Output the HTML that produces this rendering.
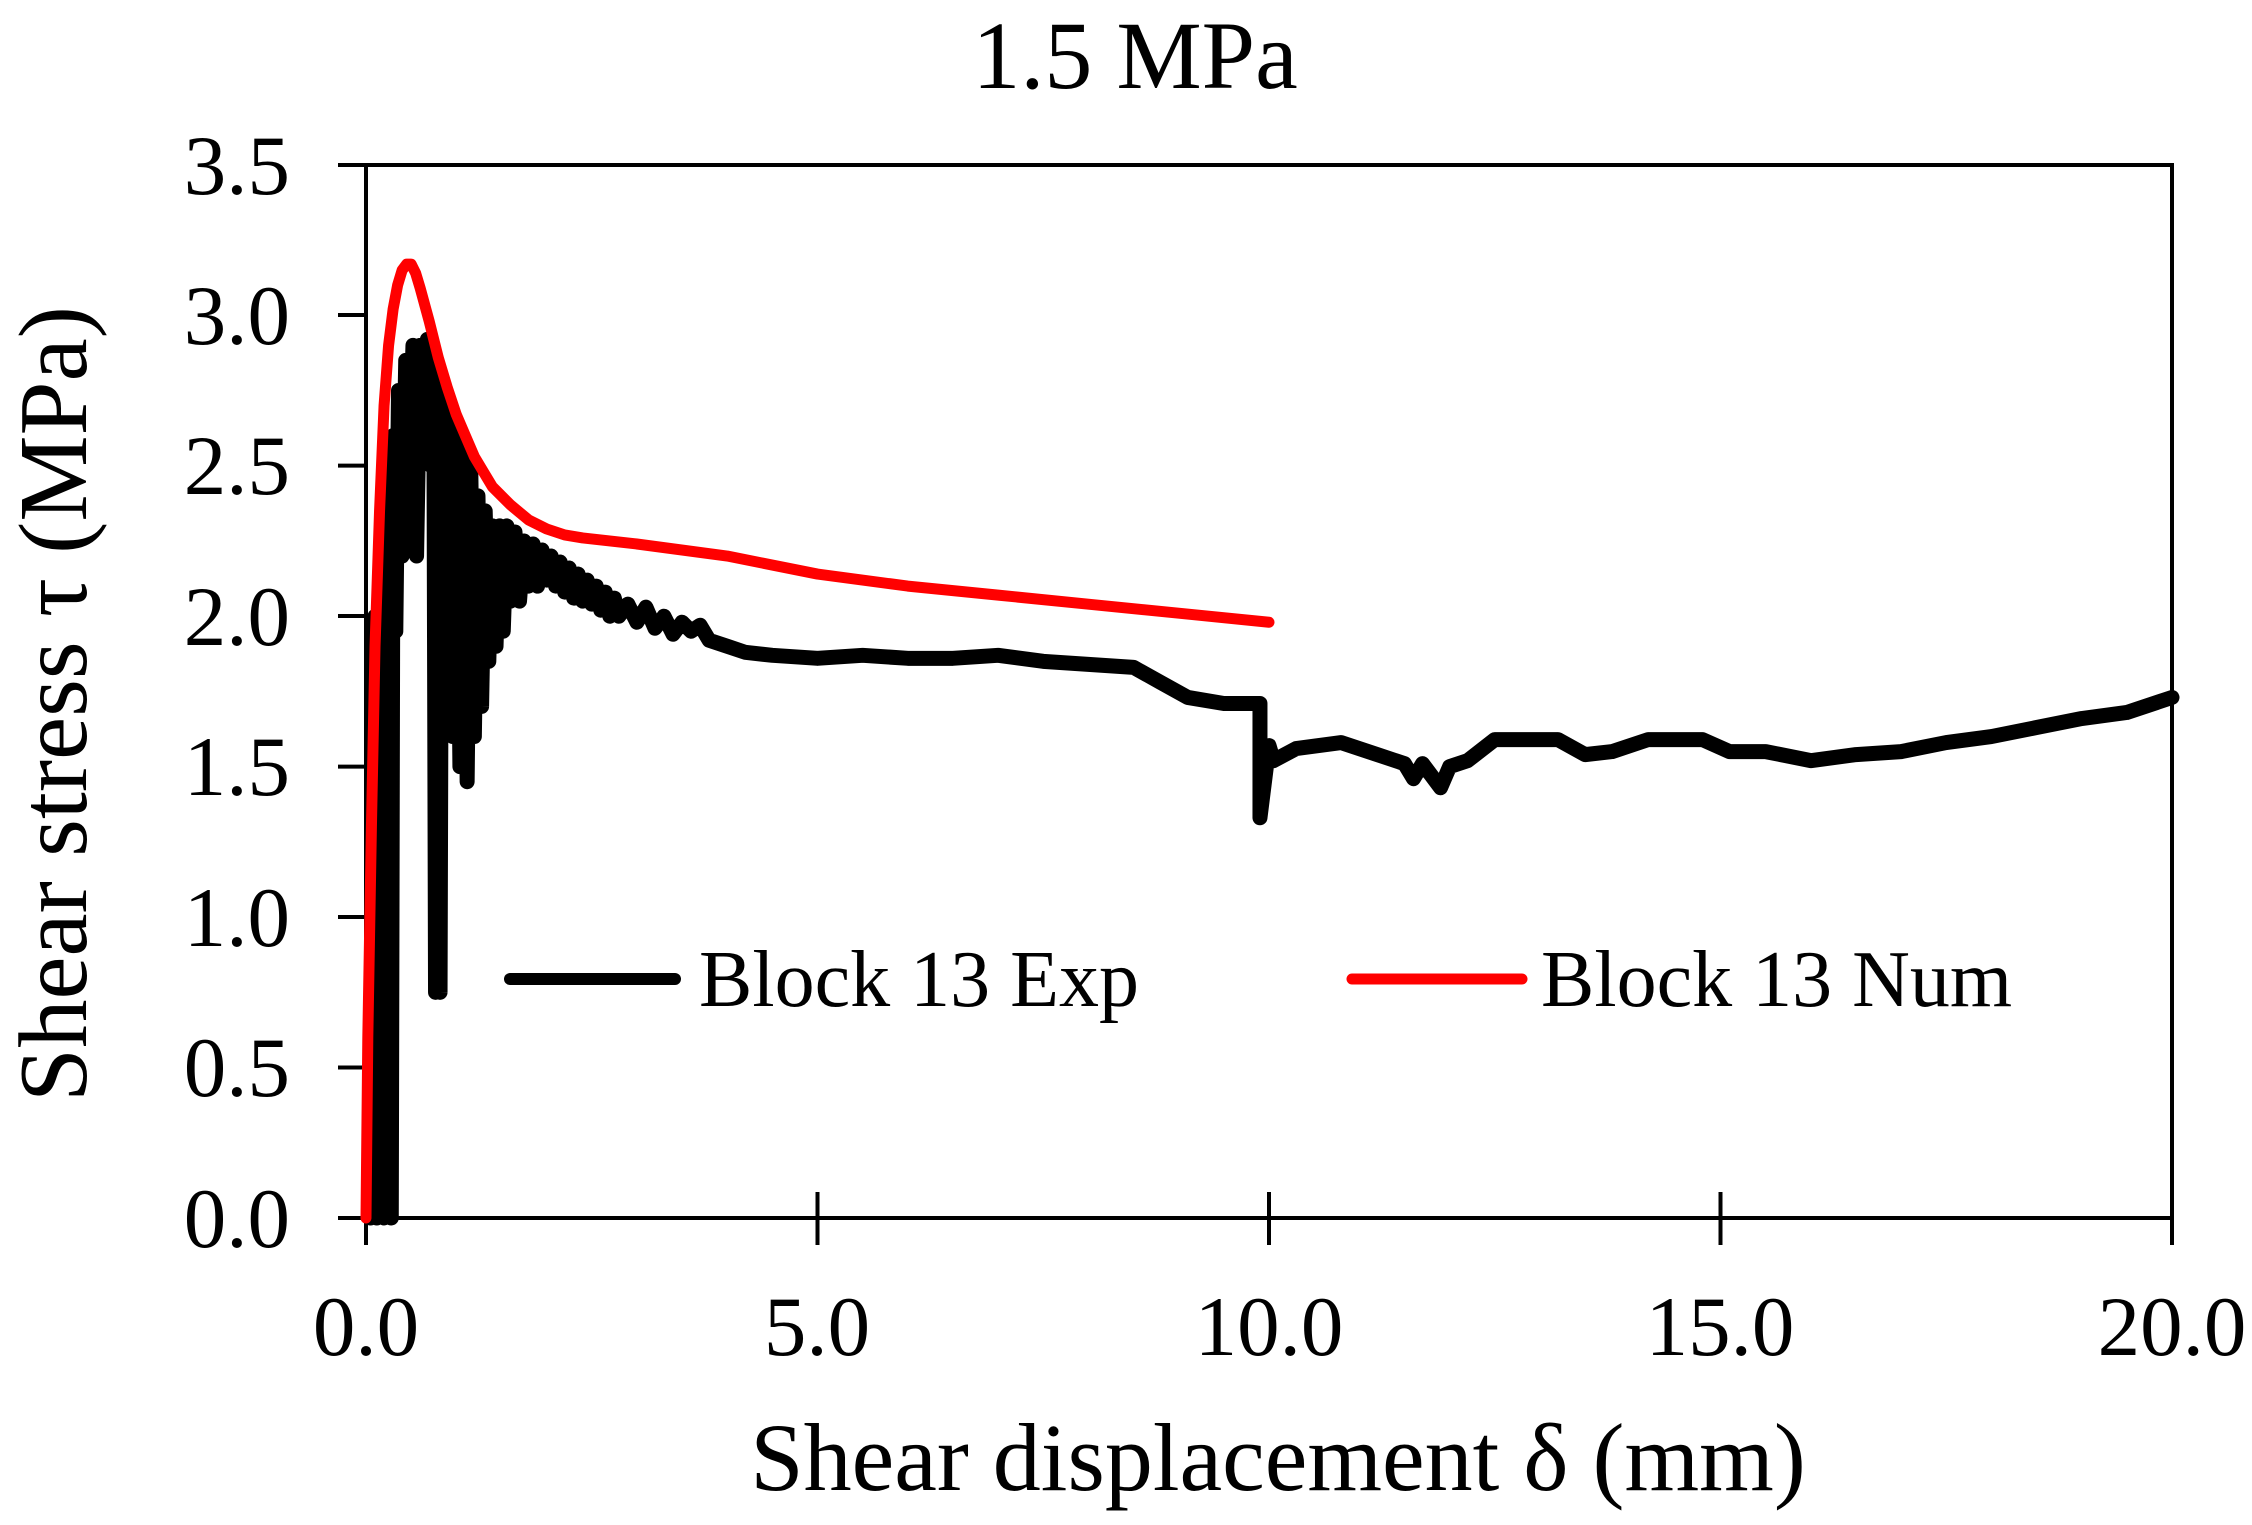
<!DOCTYPE html>
<html><head><meta charset="utf-8"><style>
html,body{margin:0;padding:0;background:#fff;}
svg{display:block;}
text{font-family:"Liberation Serif",serif;fill:#000;}
</style></head><body>
<svg width="2252" height="1525" viewBox="0 0 2252 1525" xmlns="http://www.w3.org/2000/svg">
<text x="1135" y="88" font-size="96" text-anchor="middle">1.5 MPa</text>
<rect x="366" y="165" width="1806" height="1053" fill="none" stroke="#000" stroke-width="4"/>
<g stroke="#000" stroke-width="4">
<line x1="338" y1="1218" x2="366" y2="1218"/><line x1="338" y1="1067.5" x2="366" y2="1067.5"/>
<line x1="338" y1="917" x2="366" y2="917"/><line x1="338" y1="766.6" x2="366" y2="766.6"/>
<line x1="338" y1="616" x2="366" y2="616"/><line x1="338" y1="465.6" x2="366" y2="465.6"/>
<line x1="338" y1="315" x2="366" y2="315"/><line x1="338" y1="165" x2="366" y2="165"/>
<line x1="366" y1="1218" x2="366" y2="1245"/><line x1="817.5" y1="1192" x2="817.5" y2="1245"/>
<line x1="1269" y1="1192" x2="1269" y2="1245"/><line x1="1720.5" y1="1192" x2="1720.5" y2="1245"/>
<line x1="2172" y1="1192" x2="2172" y2="1245"/>
</g>
<g font-size="85" text-anchor="end">
<text x="290" y="1247">0.0</text><text x="290" y="1096">0.5</text><text x="290" y="946">1.0</text>
<text x="290" y="795">1.5</text><text x="290" y="645">2.0</text><text x="290" y="494">2.5</text>
<text x="290" y="344">3.0</text><text x="290" y="194">3.5</text>
</g>
<g font-size="85" text-anchor="middle">
<text x="366" y="1355">0.0</text><text x="817" y="1355">5.0</text><text x="1269" y="1355">10.0</text>
<text x="1720" y="1355">15.0</text><text x="2172" y="1355">20.0</text>
</g>
<text x="1278" y="1490" font-size="96" text-anchor="middle">Shear displacement δ (mm)</text>
<text transform="translate(86,704) rotate(-90)" font-size="97" text-anchor="middle">Shear stress τ (MPa)</text>
<g transform="translate(366,1218) scale(90.3,-300.9)" fill="none" stroke-linejoin="round" stroke-linecap="round">
<polyline vector-effect="non-scaling-stroke" stroke="#000" stroke-width="15" points="0.05,0 0.1,2.0 0.12,0 0.18,2.3 0.2,0 0.25,2.5 0.28,0 0.3,2.6 0.33,1.95 0.36,2.75 0.4,2.2 0.44,2.85 0.48,2.5 0.52,2.9 0.56,2.2 0.6,2.9 0.64,2.6 0.68,2.92 0.72,2.5 0.75,2.85 0.77,0.75 0.8,2.8 0.82,0.75 0.84,2.7 0.88,1.8 0.92,2.7 0.96,1.6 1.0,2.65 1.04,1.5 1.08,2.55 1.12,1.45 1.16,2.5 1.2,1.6 1.24,2.4 1.28,1.7 1.32,2.35 1.36,1.85 1.4,2.3 1.44,1.9 1.48,2.3 1.52,1.95 1.56,2.3 1.6,2.05 1.65,2.28 1.7,2.05 1.75,2.25 1.8,2.1 1.85,2.24 1.9,2.1 1.95,2.22 2.0,2.12 2.05,2.2 2.1,2.1 2.15,2.18 2.2,2.08 2.25,2.16 2.3,2.06 2.35,2.14 2.4,2.05 2.45,2.12 2.5,2.04 2.55,2.1 2.6,2.02 2.65,2.08 2.7,2.0 2.75,2.06 2.8,2.0 2.9,2.04 3.0,1.98 3.1,2.03 3.2,1.96 3.3,2.0 3.4,1.94 3.5,1.98 3.6,1.95 3.7,1.97 3.8,1.92 4.0,1.9 4.2,1.88 4.5,1.87 5,1.86 5.5,1.87 6,1.86 6.5,1.86 7,1.87 7.5,1.85 8,1.84 8.5,1.83 8.8,1.78 9.1,1.73 9.5,1.71 9.9,1.71 9.9,1.33 10.0,1.57 10.05,1.52 10.3,1.56 10.8,1.58 11.2,1.54 11.5,1.51 11.6,1.46 11.7,1.51 11.9,1.43 12.0,1.5 12.2,1.52 12.5,1.59 13.2,1.59 13.5,1.54 13.8,1.55 14.2,1.59 14.8,1.59 15.1,1.55 15.5,1.55 16,1.52 16.5,1.54 17,1.55 17.5,1.58 18,1.6 18.5,1.63 19,1.66 19.5,1.68 20,1.73"/>
<polyline vector-effect="non-scaling-stroke" stroke="#f00" stroke-width="11" points="0,0 0.02,0.6 0.06,1.3 0.1,1.9 0.15,2.35 0.2,2.7 0.25,2.9 0.3,3.02 0.35,3.1 0.4,3.15 0.45,3.17 0.5,3.17 0.55,3.14 0.6,3.09 0.7,2.98 0.8,2.86 0.9,2.76 1.0,2.67 1.1,2.6 1.2,2.53 1.3,2.48 1.4,2.43 1.6,2.37 1.8,2.32 2.0,2.29 2.2,2.27 2.4,2.26 3,2.24 4,2.2 5,2.14 6,2.1 7,2.07 8,2.04 9,2.01 10,1.98"/>
</g>
<line x1="510" y1="979" x2="675" y2="979" stroke="#000" stroke-width="12" stroke-linecap="round"/>
<text x="699" y="1006" font-size="80">Block 13 Exp</text>
<line x1="1352" y1="979" x2="1522" y2="979" stroke="#f00" stroke-width="11" stroke-linecap="round"/>
<text x="1541" y="1006" font-size="80">Block 13 Num</text>
</svg>
</body></html>
